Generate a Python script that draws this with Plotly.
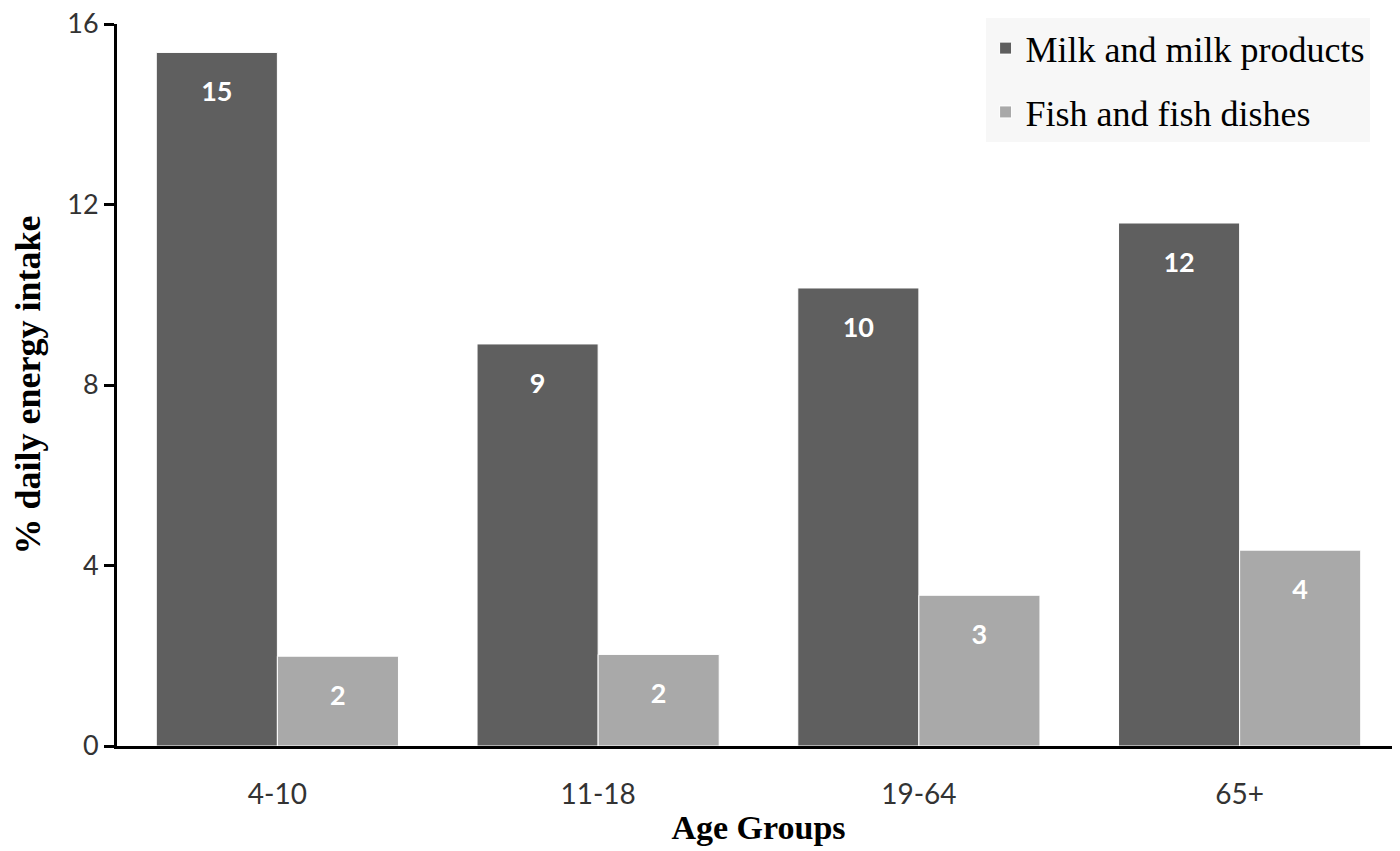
import plotly.graph_objects as go

categories = ["4-10", "11-18", "19-64", "65+"]
milk = [15.37, 8.91, 10.15, 11.59]
fish = [1.99, 2.03, 3.34, 4.34]
yticks = [0, 4, 8, 12, 16]

label_tpl = "\u00a0<br><span style='font-size:27px'>%{y:.0f}</span>"
label_font = dict(family="Lato", size=20, color="white", weight="bold")

fig = go.Figure()
fig.add_trace(go.Bar(
    x=categories, y=milk, name="Milk and milk products", legendgroup="a",
    marker=dict(color="#5f5f5f", line=dict(color="white", width=1)),
    texttemplate=label_tpl, textposition="inside", insidetextanchor="end",
    textfont=label_font, hoverinfo="x+y",
))
fig.add_trace(go.Bar(
    x=categories, y=fish, name="Fish and fish dishes", legendgroup="b",
    marker=dict(color="#a9a9a9", line=dict(color="white", width=1)),
    texttemplate=label_tpl, textposition="inside", insidetextanchor="end",
    textfont=label_font, hoverinfo="x+y",
))

fig.update_layout(
    width=1392, height=843,
    margin=dict(l=109, r=0, t=16, b=105, autoexpand=False),
    paper_bgcolor="white", plot_bgcolor="white",
    barmode="group", bargap=0.245, bargroupgap=0.0,
    legend=dict(
        x=0.677, y=1.008, xanchor="left", yanchor="top",
        bgcolor="#f7f7f7", font=dict(family="Liberation Serif", size=36, color="black"),
        traceorder="grouped", tracegroupgap=14, itemwidth=30,
    ),
    showlegend=True,
)
fig.update_xaxes(
    automargin=False,
    showline=True, linecolor="black", linewidth=3,
    ticks="outside", ticklen=21, tickcolor="rgba(0,0,0,0)",
    tickfont=dict(family="Lato", size=28, color="#333"),
    title=dict(text="<b>Age Groups</b>", font=dict(family="Liberation Serif", size=34, color="black"), standoff=7),
)
fig.update_yaxes(
    automargin=False,
    range=[0, 16], tickvals=yticks, showgrid=False, zeroline=False,
    showline=True, linecolor="black", linewidth=3,
    ticks="outside", ticklen=10, tickwidth=3, tickcolor="black",
    ticklabeloverflow="allow",
    tickfont=dict(family="Lato", size=27, color="#333"),
    title=dict(text="<b>% daily energy intake</b>", font=dict(family="Liberation Serif", size=36, color="black"), standoff=18),
)
fig.write_html("out.html")
